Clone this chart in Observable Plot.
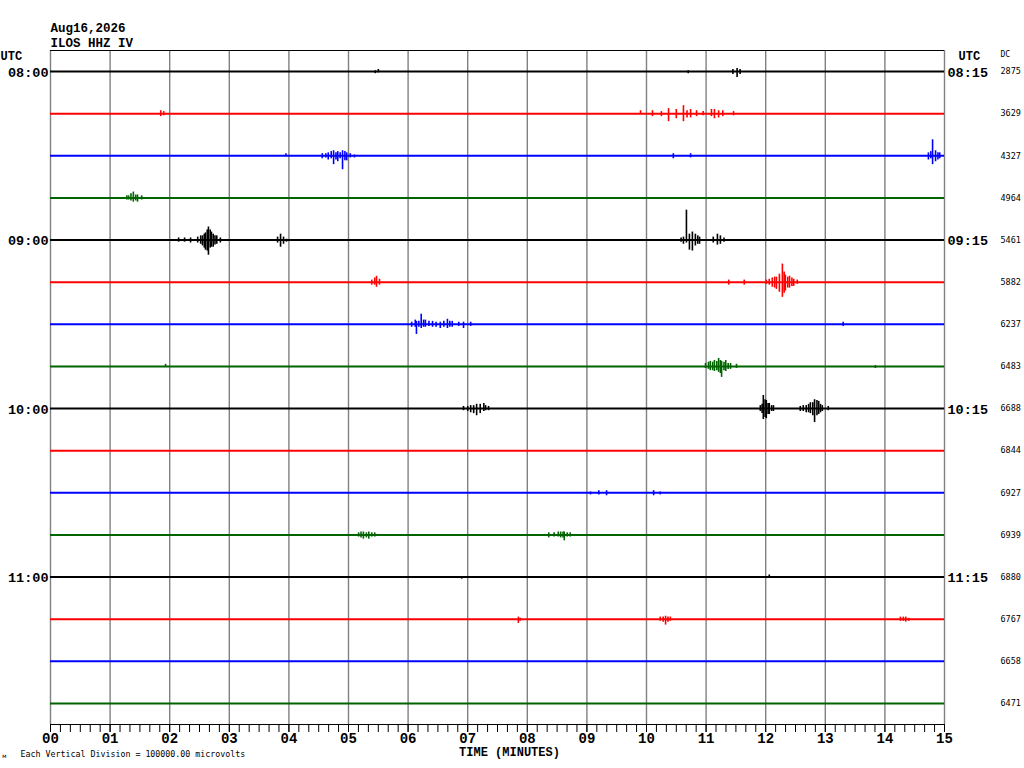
<!DOCTYPE html>
<html>
<head>
<meta charset="utf-8">
<script src="https://cdn.jsdelivr.net/npm/d3@7"></script>
<script src="https://cdn.jsdelivr.net/npm/@observablehq/plot@0.6"></script>
<style>
  html, body { margin: 0; padding: 0; background: #fff; }
  #chart { width: 1024px; height: 768px; }
</style>
</head>
<body>
<div id="chart"></div>
<script>
// ---- data ----
const titleLines = ["Aug16,2026", "ILOS HHZ IV"];
const traceColors = ["#000000", "#ff0000", "#0000ff", "#006400"];
const leftHours = ["08:00", "09:00", "10:00", "11:00"];
const rightHours = ["08:15", "09:15", "10:15", "11:15"];
const hourRows = [0, 4, 8, 12];
const dcValues = [2875, 3629, 4327, 4964, 5461, 5882, 6237, 6483, 6688, 6844, 6927, 6939, 6880, 6767, 6658, 6471];
const minuteTicks = d3.range(0, 16);
const minuteLabels = ["00","01","02","03","04","05","06","07","08","09","10","11","12","13","14","15"];
const footerText = "Each Vertical Division = 100000.00 microvolts";
const axisTitle = "TIME (MINUTES)";
// spikes: [row, minute, amplitude up (mV), amplitude down (mV)]  (1 division = 100 mV)
const spikes = [
  // row 0
  [0, 5.45, 2, 5], [0, 5.5, 5, 3], [0, 11.45, 5, 7], [0, 11.52, 7, 14], [0, 11.57, 5, 7], [0, 10.7, 2, 5],
  // row 1
  [1, 1.85, 7, 7], [1, 1.9, 5, 5], [1, 9.9, 7, 2], [1, 10.1, 7, 7], [1, 10.25, 5, 7], [1, 10.37, 12, 19], [1, 10.5, 10, 12],
  [1, 10.62, 19, 19], [1, 10.68, 7, 10], [1, 10.74, 10, 10], [1, 10.84, 7, 7], [1, 10.95, 5, 5], [1, 11.09, 10, 7], [1, 11.14, 10, 12],
  [1, 11.21, 7, 10], [1, 11.28, 7, 7], [1, 11.46, 5, 5],
  // row 2
  [2, 3.95, 5, 2], [2, 4.56, 5, 7], [2, 4.62, 5, 5], [2, 4.66, 7, 10], [2, 4.71, 10, 7], [2, 4.75, 12, 21], [2, 4.79, 7, 10],
  [2, 4.82, 10, 14], [2, 4.86, 7, 7], [2, 4.9, 12, 33], [2, 4.94, 10, 12], [2, 4.97, 7, 12], [2, 5.03, 5, 5], [2, 5.1, 2, 5],
  [2, 10.45, 5, 7], [2, 10.74, 5, 5], [2, 14.73, 7, 10], [2, 14.77, 10, 7], [2, 14.8, 38, 21], [2, 14.85, 12, 14], [2, 14.89, 7, 10], [2, 14.92, 7, 7],
  // row 3
  [3, 1.28, 5, 5], [3, 1.31, 5, 5], [3, 1.35, 10, 7], [3, 1.39, 14, 10], [3, 1.43, 7, 7], [3, 1.46, 7, 10], [3, 1.53, 5, 5],
  // row 4
  [4, 2.15, 5, 5], [4, 2.25, 5, 5], [4, 2.35, 5, 7], [4, 2.47, 7, 7], [4, 2.52, 10, 10], [4, 2.55, 10, 14], [4, 2.58, 14, 19],
  [4, 2.6, 17, 24], [4, 2.63, 24, 26], [4, 2.65, 31, 36], [4, 2.68, 24, 19], [4, 2.7, 19, 17], [4, 2.73, 14, 17], [4, 2.76, 10, 12],
  [4, 2.79, 10, 10], [4, 2.85, 5, 7], [4, 3.81, 7, 7], [4, 3.86, 14, 17], [4, 3.91, 7, 10], [4, 3.96, 2, 5],
  [4, 10.58, 5, 5], [4, 10.62, 7, 10], [4, 10.67, 71, 7], [4, 10.72, 14, 24], [4, 10.77, 19, 26], [4, 10.82, 14, 14],
  [4, 10.86, 10, 10], [4, 10.89, 7, 10], [4, 11.12, 7, 7], [4, 11.19, 14, 12], [4, 11.24, 10, 10], [4, 11.3, 5, 5],
  // row 5
  [5, 5.39, 5, 7], [5, 5.44, 10, 7], [5, 5.47, 14, 12], [5, 5.52, 7, 7], [5, 11.38, 5, 7], [5, 11.64, 5, 7],
  [5, 12.01, 5, 5], [5, 12.06, 7, 7], [5, 12.11, 10, 12], [5, 12.15, 12, 14], [5, 12.18, 12, 17], [5, 12.23, 19, 24],
  [5, 12.28, 43, 36], [5, 12.31, 24, 26], [5, 12.33, 17, 21], [5, 12.37, 12, 14], [5, 12.4, 14, 14], [5, 12.44, 10, 10],
  [5, 12.47, 7, 10], [5, 12.53, 5, 5],
  // row 6
  [6, 6.06, 5, 7], [6, 6.12, 10, 7], [6, 6.14, 7, 24], [6, 6.18, 7, 7], [6, 6.22, 24, 10], [6, 6.26, 10, 7], [6, 6.29, 10, 7],
  [6, 6.35, 7, 5], [6, 6.41, 7, 7], [6, 6.47, 5, 7], [6, 6.54, 5, 10], [6, 6.6, 7, 7], [6, 6.66, 12, 10], [6, 6.7, 7, 7],
  [6, 6.74, 7, 7], [6, 6.85, 5, 5], [6, 6.93, 5, 10], [6, 7.05, 5, 5], [6, 13.3, 5, 5],
  // row 7
  [7, 1.93, 5, 2], [7, 10.99, 7, 5], [7, 11.04, 10, 7], [7, 11.07, 12, 10], [7, 11.11, 10, 10], [7, 11.14, 14, 12],
  [7, 11.18, 12, 10], [7, 11.21, 19, 14], [7, 11.24, 14, 17], [7, 11.26, 12, 26], [7, 11.3, 10, 10], [7, 11.33, 14, 12],
  [7, 11.37, 7, 7], [7, 11.41, 7, 7], [7, 11.51, 5, 5], [7, 13.84, 2, 5],
  // row 8
  [8, 6.93, 5, 5], [8, 7.0, 5, 7], [8, 7.05, 7, 10], [8, 7.1, 7, 12], [8, 7.15, 10, 17], [8, 7.21, 10, 12], [8, 7.27, 12, 7],
  [8, 7.3, 7, 5], [8, 7.35, 5, 5], [8, 11.91, 7, 7], [8, 11.94, 10, 12], [8, 11.96, 31, 26], [8, 11.99, 21, 21], [8, 12.01, 19, 24],
  [8, 12.04, 12, 14], [8, 12.06, 12, 14], [8, 12.1, 7, 7], [8, 12.13, 7, 7], [8, 12.58, 5, 7], [8, 12.63, 7, 7],
  [8, 12.68, 7, 10], [8, 12.72, 10, 10], [8, 12.75, 14, 12], [8, 12.79, 14, 17], [8, 12.82, 21, 33], [8, 12.86, 19, 17],
  [8, 12.89, 17, 14], [8, 12.92, 10, 10], [8, 12.95, 7, 7], [8, 13.05, 5, 5],
  // row 10
  [10, 9.06, 2, 5], [10, 9.2, 5, 5], [10, 9.33, 5, 7], [10, 10.12, 5, 7], [10, 10.23, 2, 5],
  // row 11
  [11, 5.17, 5, 5], [11, 5.21, 7, 7], [11, 5.25, 7, 10], [11, 5.3, 5, 7], [11, 5.34, 7, 10], [11, 5.39, 5, 5], [11, 5.44, 5, 5],
  [11, 8.36, 5, 7], [11, 8.45, 5, 5], [11, 8.52, 7, 5], [11, 8.56, 7, 7], [11, 8.6, 7, 7], [11, 8.62, 7, 14], [11, 8.67, 5, 5], [11, 8.72, 5, 5],
  // row 12
  [12, 6.9, 0, 5], [12, 12.06, 5, 0],
  // row 13
  [13, 7.85, 5, 10], [13, 7.88, 2, 5], [13, 10.23, 5, 5], [13, 10.28, 5, 7], [13, 10.32, 7, 14], [13, 10.36, 5, 7], [13, 10.4, 5, 5],
  [13, 14.26, 5, 5], [13, 14.31, 5, 5], [13, 14.35, 5, 7], [13, 14.4, 2, 5]
];

// ---- derived tables ----
const rows = dcValues.map((dc, i) => ({row: i, dc, color: traceColors[i % 4]}));
const spikeTable = spikes.map(([row, t, up, down]) => ({row, t, up, down, color: traceColors[row % 4]}));
const hourTable = hourRows.map((r, i) => ({row: r, left: leftHours[i], right: rightHours[i]}));
const minorTicks = d3.range(0, 91).map(i => i / 6);

const boldMono = "'Liberation Mono', 'DejaVu Sans Mono', monospace";
const smallMono = "'DejaVu Sans Mono', monospace";

const chart = Plot.plot({
  width: 1024,
  height: 768,
  marginLeft: 50,
  marginRight: 80,
  marginTop: 50,
  marginBottom: 44,
  style: {background: "#fff", overflow: "visible"},
  x: {domain: [0, 15], axis: null, label: null},
  y: {domain: [-0.5, 15.5], reverse: true, axis: null, label: null},
  marks: [
    // vertical minute gridlines
    Plot.ruleX(minuteTicks, {stroke: "#808080", strokeWidth: 1.4}),
    // top border and bottom axis line
    Plot.ruleY([-0.5], {stroke: "#000", strokeWidth: 1.2}),
    Plot.ruleY([15.5], {stroke: "#000", strokeWidth: 1.2}),
    // trace baselines
    Plot.ruleY(rows, {y: "row", x1: 0, x2: 15, stroke: "color", strokeWidth: 2}),
    // seismic spikes
    Plot.ruleX(spikeTable, {
      x: "t",
      y1: d => d.row - d.up / 100,
      y2: d => d.row + d.down / 100,
      stroke: "color",
      strokeWidth: 1.6
    }),
    // x axis ticks
    Plot.axisX({ticks: minorTicks, tickSize: 8, tickFormat: () => "", stroke: "#000", label: null}),
    Plot.axisX({
      ticks: minuteTicks, tickSize: 8, tickPadding: 1, label: null,
      tickFormat: d => minuteLabels[d],
      fontFamily: boldMono, fontSize: 14, fontWeight: "bold", fill: "#000", stroke: "#000"
    }),
    // hour labels left & right
    Plot.text(hourTable, {x: 0, y: "row", text: "left", textAnchor: "end", dx: -2, dy: 1,
      fontFamily: boldMono, fontSize: 13.5, fontWeight: "bold", fill: "#000"}),
    Plot.text(hourTable, {x: 15, y: "row", text: "right", textAnchor: "start", dx: 3, dy: 1,
      fontFamily: boldMono, fontSize: 13.5, fontWeight: "bold", fill: "#000"}),
    // DC values
    Plot.text(rows, {x: 15, y: "row", text: d => String(d.dc), textAnchor: "start", dx: 56,
      fontFamily: smallMono, fontSize: 8.5, fill: "#000"}),
    // header texts
    Plot.text([titleLines[0]], {frameAnchor: "top-left", textAnchor: "start", lineAnchor: "middle", dy: -23,
      fontFamily: boldMono, fontSize: 12.5, fontWeight: "bold", fill: "#000"}),
    Plot.text([titleLines[1]], {frameAnchor: "top-left", textAnchor: "start", lineAnchor: "middle", dy: -8,
      fontFamily: boldMono, fontSize: 12.5, fontWeight: "bold", fill: "#000"}),
    Plot.text(["UTC"], {frameAnchor: "top-left", textAnchor: "start", lineAnchor: "middle", dx: -50, dy: 6,
      fontFamily: boldMono, fontSize: 12, fontWeight: "bold", fill: "#000"}),
    Plot.text(["UTC"], {frameAnchor: "top-right", textAnchor: "start", lineAnchor: "middle", dx: 14, dy: 6,
      fontFamily: boldMono, fontSize: 12, fontWeight: "bold", fill: "#000"}),
    Plot.text(["DC"], {frameAnchor: "top-right", textAnchor: "start", lineAnchor: "middle", dx: 56, dy: 4,
      fontFamily: smallMono, fontSize: 8, fill: "#000"}),
    // footer texts
    Plot.text([axisTitle], {frameAnchor: "bottom", textAnchor: "middle", lineAnchor: "middle", dx: 12, dy: 28,
      fontFamily: boldMono, fontSize: 12, fontWeight: "bold", fill: "#000"}),
    Plot.text([footerText], {frameAnchor: "bottom-left", textAnchor: "start", lineAnchor: "middle", dx: -30, dy: 30,
      fontFamily: smallMono, fontSize: 8.3, fill: "#000"}),
    Plot.text(["м"], {frameAnchor: "bottom-left", textAnchor: "start", lineAnchor: "middle", dx: -48, dy: 32,
      fontFamily: smallMono, fontSize: 6, fill: "#000"})
  ]
});
document.getElementById("chart").appendChild(chart);
</script>
</body>
</html>
